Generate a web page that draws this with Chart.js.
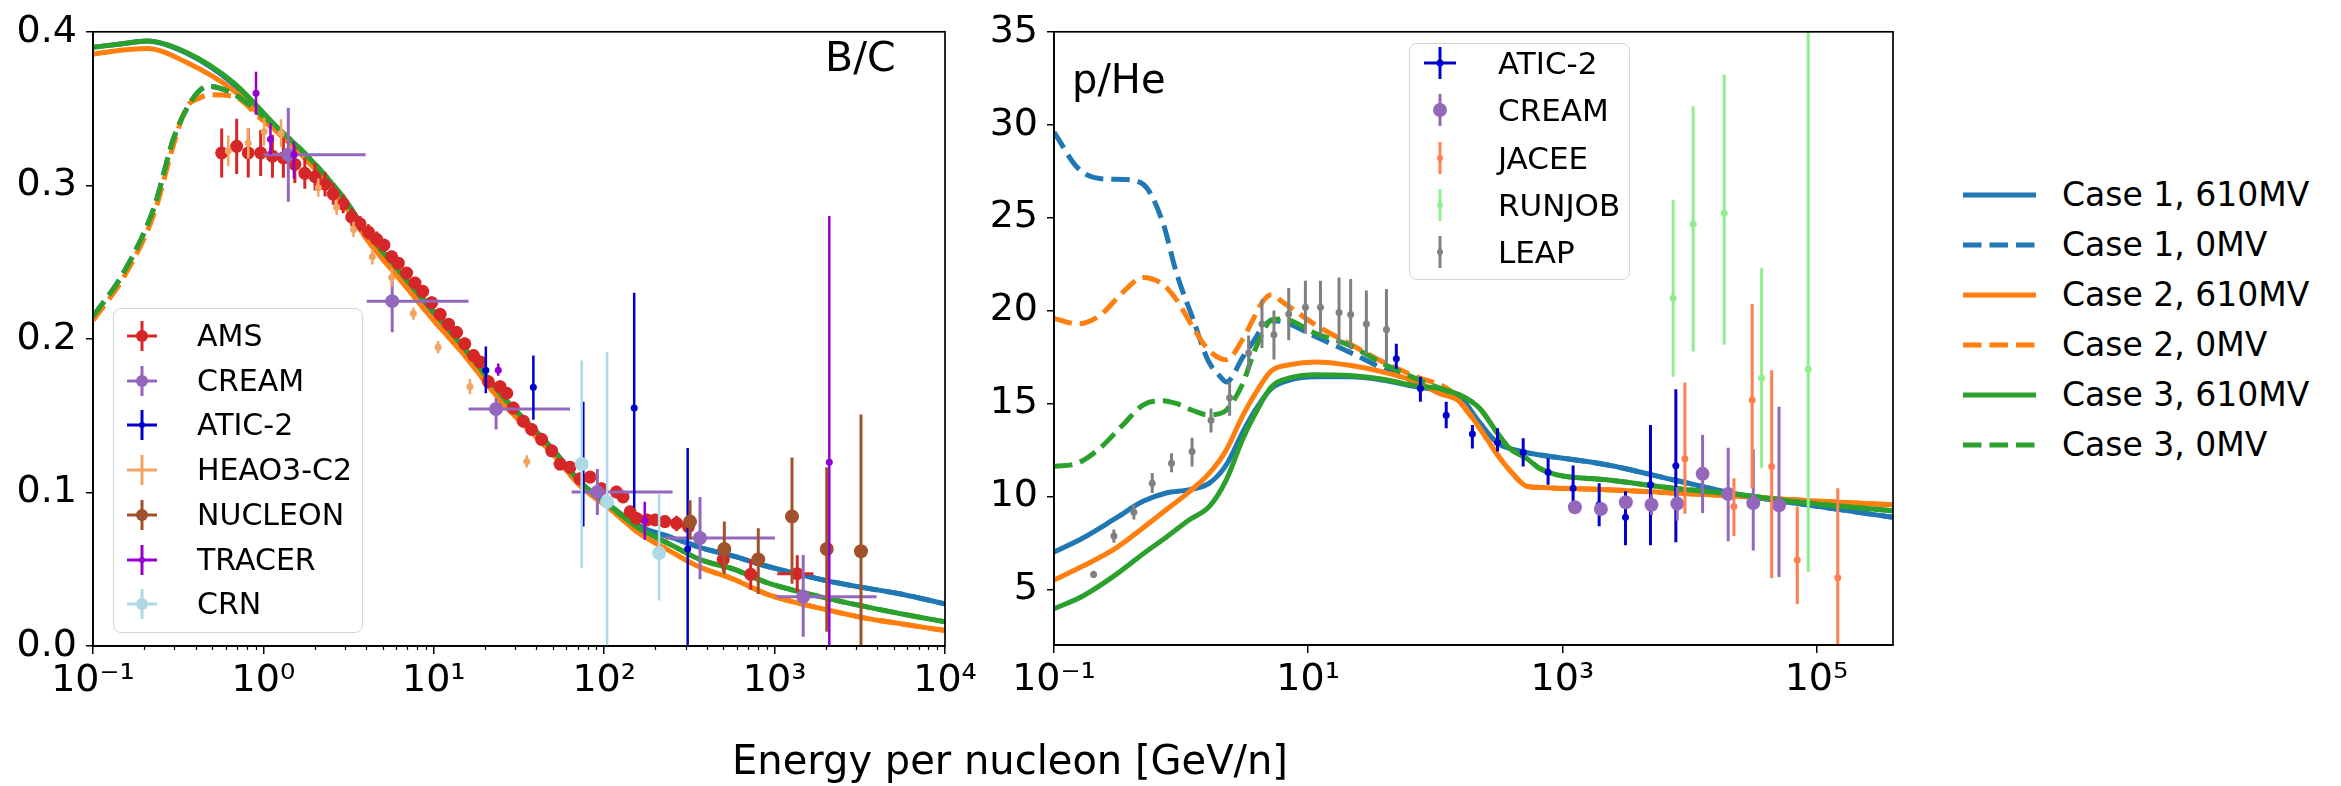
<!DOCTYPE html>
<html>
<head>
<meta charset="utf-8">
<script src="https://cdn.jsdelivr.net/npm/chart.js@4/dist/chart.umd.min.js"></script>
<style>
  body { margin: 0; background: #fff; width: 2341px; height: 786px; overflow: hidden; position: relative; font-family: "DejaVu Sans", sans-serif; color: #000; }
  canvas { position: absolute; top: 0; }
  #bc { left: 0; }
  #ph { left: 960px; }
  .lbl { position: absolute; line-height: 1; white-space: nowrap; }
  .box { position: absolute; border: 1.5px solid #d4d4d4; border-radius: 8px; background: rgba(255,255,255,0.8); box-sizing: border-box; }
  .row { position: absolute; left: 0; height: 40px; line-height: 40px; white-space: nowrap; }
  .row svg { position: absolute; top: 0; }
  .row span { position: absolute; }
</style>
</head>
<body>
<canvas id="bc" width="1010" height="786"></canvas>
<canvas id="ph" width="950" height="786"></canvas>

<div class="lbl" style="left:825px; top:37px; font-size:41px;">B/C</div>
<div class="lbl" style="left:1072px; top:59px; font-size:40px;">p/He</div>
<div class="lbl" style="left:0; width:2020px; text-align:center; top:740px; font-size:40px;">Energy per nucleon [GeV/n]</div>

<div id="legBC" class="box" style="left:113px; top:308px; width:250px; height:325px;"></div>
<div id="legPH" class="box" style="left:1409px; top:43px; width:221px; height:237px;"></div>
<div id="legCase" style="position:absolute; left:1950px; top:170px; width:391px; height:300px;"></div>

<script>
// ---------- B/C model curves ----------
const bcE = [0.1, 0.145, 0.207, 0.355, 0.665, 1.2, 1.78, 2.95, 4.04, 6.3, 10, 15.5, 24.5, 49, 72, 112, 155, 251, 363, 575, 891, 2040, 3470, 5500, 10000];
const bcCase1 = [0.390, 0.392, 0.394, 0.386, 0.366, 0.337, 0.319, 0.291, 0.269, 0.243, 0.217, 0.192, 0.164, 0.129, 0.107, 0.090, 0.0789, 0.0705, 0.0643, 0.0585, 0.0521, 0.0424, 0.0377, 0.0339, 0.0274];
const bcCase2 = [0.3854, 0.388, 0.3892, 0.380, 0.362, 0.335, 0.317, 0.288, 0.265, 0.239, 0.212, 0.188, 0.160, 0.126, 0.1046, 0.088, 0.0746, 0.061, 0.0514, 0.0435, 0.034, 0.0235, 0.018, 0.0145, 0.0100];
const bcCase3 = [0.390, 0.392, 0.394, 0.3865, 0.367, 0.338, 0.320, 0.292, 0.2696, 0.2439, 0.218, 0.1924, 0.1646, 0.129, 0.107, 0.090, 0.0778, 0.0655, 0.0564, 0.050, 0.0415, 0.031, 0.0255, 0.021, 0.0158];
const bcE0 = [0.1, 0.151, 0.229, 0.296, 0.355, 0.425, 0.475, 0.665, 0.955, 1.78, 2.95, 4.04, 6.3, 10, 15.5, 24.5, 49, 72, 112, 155, 251, 363, 575, 891, 2040, 3470, 5500, 10000];
const bcCase1_0 = [0.2146, 0.243, 0.286, 0.330, 0.350, 0.362, 0.3645, 0.3597, 0.3468, 0.319, 0.291, 0.269, 0.243, 0.217, 0.192, 0.164, 0.129, 0.107, 0.090, 0.0789, 0.0705, 0.0643, 0.0585, 0.0521, 0.0424, 0.0377, 0.0339, 0.0274];
const bcCase2_0 = [0.212, 0.240, 0.282, 0.326, 0.351, 0.357, 0.359, 0.358, 0.344, 0.317, 0.288, 0.265, 0.239, 0.212, 0.188, 0.160, 0.126, 0.1046, 0.088, 0.0746, 0.061, 0.0514, 0.0435, 0.034, 0.0235, 0.018, 0.0145, 0.0100];
const bcCase3_0 = [0.2146, 0.243, 0.286, 0.330, 0.350, 0.362, 0.3645, 0.3597, 0.3468, 0.320, 0.292, 0.2696, 0.2439, 0.218, 0.1924, 0.1646, 0.129, 0.107, 0.090, 0.0778, 0.0655, 0.0564, 0.050, 0.0415, 0.031, 0.0255, 0.021, 0.0158];

// ---------- B/C data ----------
const amsE = [0.569, 0.697, 0.815, 0.964, 1.13, 1.31, 1.53, 1.75, 2.01, 2.30, 2.57, 2.94, 3.30, 3.69, 4.13, 4.62, 5.10, 5.66, 6.19, 6.93, 7.76, 8.61, 9.72, 10.9, 12.2, 13.6, 15.2, 17.1, 18.7, 20.9, 24.5, 26.8, 29.3, 33.5, 37.5, 42.9, 49.2, 55.1, 63.0, 72.1, 82.6, 96.6, 118, 129, 142, 155, 178, 199, 227, 266, 312, 500, 724, 1358];
const amsY = [0.3211, 0.3254, 0.3211, 0.3211, 0.319, 0.3179, 0.3136, 0.3078, 0.3056, 0.3007, 0.2943, 0.2879, 0.2793, 0.275, 0.2696, 0.2649, 0.2611, 0.2535, 0.2493, 0.2429, 0.2364, 0.231, 0.2236, 0.216, 0.2096, 0.2043, 0.1968, 0.1892, 0.185, 0.1721, 0.1689, 0.1646, 0.155, 0.1464, 0.141, 0.1346, 0.1271, 0.1185, 0.1164, 0.1089, 0.110, 0.1024, 0.1003, 0.0971, 0.0874, 0.0831, 0.0821, 0.0821, 0.081, 0.0799, 0.0778, 0.0564, 0.0467, 0.0471];
const amsErr = [0.016, 0.018, 0.016, 0.015, 0.014, 0.013, 0.012, 0.010, 0.009, 0.008, 0.007, 0.006, 0.006, 0.005, 0.005, 0.005, 0.004, 0.004, 0.004, 0.004, 0.004, 0.004, 0.004, 0.004, 0.004, 0.004, 0.004, 0.004, 0.004, 0.004, 0.004, 0.004, 0.004, 0.004, 0.004, 0.004, 0.004, 0.004, 0.004, 0.004, 0.004, 0.004, 0.004, 0.004, 0.004, 0.004, 0.004, 0.004, 0.004, 0.005, 0.005, 0.008, 0.010, 0.012];
const amsXLo = [1037];
const amsXHi = [1690];

const creamBcE = [1.40, 5.70, 23.2, 91.2, 365, 1472];
const creamBcY = [0.320, 0.2246, 0.1543, 0.1003, 0.0703, 0.0321];
const creamBcLo = [0.2894, 0.2043, 0.141, 0.0853, 0.0435, 0.006];
const creamBcHi = [0.3506, 0.2375, 0.1614, 0.1153, 0.0971, 0.0592];
const creamBcXLo = [1.0, 4.04, 16, 64.4, 227, 1028];
const creamBcXHi = [3.98, 16, 63, 252, 1005, 3970];

const aticBcE = [20.2, 38.4, 75.4, 150, 309];
const aticBcY = [0.1796, 0.1685, 0.1185, 0.155, 0.0632];
const aticBcLo = [0.1646, 0.1474, 0.0778, 0.090, 0];
const aticBcHi = [0.195, 0.1892, 0.159, 0.230, 0.129];

const heaoE = [0.622, 0.815, 1.01, 1.27, 2.10, 2.69, 3.38, 4.36, 5.66, 7.59, 10.6, 16.3, 35.1];
const heaoY = [0.3225, 0.3275, 0.335, 0.334, 0.2985, 0.2857, 0.2713, 0.2535, 0.240, 0.2165, 0.1946, 0.1689, 0.1202];
const heaoErr = [0.010, 0.010, 0.009, 0.009, 0.006, 0.005, 0.005, 0.005, 0.006, 0.004, 0.004, 0.005, 0.004];

const nucE = [319, 507, 802, 1265, 2023, 3213];
const nucY = [0.081, 0.0632, 0.0564, 0.0843, 0.0632, 0.0617];
const nucLo = [0.0692, 0.0467, 0.0339, 0.0405, 0.0092, 0];
const nucHi = [0.095, 0.081, 0.0767, 0.1228, 0.1164, 0.1507];

const tracerE = [0.905, 1.10, 1.51, 23.9, 173, 2094];
const tracerY = [0.360, 0.330, 0.320, 0.1796, 0.0815, 0.1196];
const tracerLo = [0.346, 0.320, 0.3043, 0.176, 0.0692, 0];
const tracerHi = [0.374, 0.3405, 0.3286, 0.184, 0.0939, 0.28];

const crnE = [73.8, 104, 210];
const crnY = [0.1185, 0.0939, 0.0606];
const crnLo = [0.051, 0, 0.0296];
const crnHi = [0.186, 0.1914, 0.0992];

// ---------- p/He model curves ----------
const phE = [0.1, 0.169, 0.309, 0.501, 0.764, 1.17, 1.67, 2.27, 3.07, 3.91, 5.13, 7.14, 11.6, 21.2, 38.8, 71.1, 108, 156, 224, 312, 386, 522, 665, 900, 2230, 7450, 25000, 83600, 398000];
const phCase1 = [7.0, 7.76, 8.84, 9.73, 10.18, 10.36, 10.71, 11.70, 13.48, 14.73, 15.8, 16.25, 16.43, 16.43, 16.25, 15.89, 15.71, 15.35, 13.95, 12.85, 12.58, 12.35, 12.23, 12.1, 11.70, 10.89, 10.09, 9.55, 8.87];
const phCase2 = [5.5, 6.25, 7.23, 8.30, 9.28, 10.27, 11.25, 12.5, 14.37, 15.62, 16.75, 17.08, 17.23, 17.05, 16.69, 16.16, 15.53, 15.09, 13.66, 12.2, 11.4, 10.55, 10.48, 10.44, 10.36, 10.18, 10.0, 9.77, 9.55];
const phCase3 = [3.95, 4.64, 5.80, 6.9, 7.8, 8.75, 9.46, 10.89, 13.12, 14.55, 15.89, 16.37, 16.55, 16.5, 16.3, 15.94, 15.8, 15.45, 14.73, 13.35, 12.58, 12.05, 11.5, 11.16, 10.89, 10.44, 10.09, 9.64, 9.23];
const phE0 = [0.1, 0.155, 0.229, 0.348, 0.501, 0.719, 0.916, 1.24, 1.63, 2.0, 2.27, 3.07, 3.67, 4.41, 5.13, 6.31, 11.6, 21.2, 38.8, 71.1, 130, 156, 224, 312, 386, 522, 665, 900, 2230, 7450, 25000, 83600, 398000];
const phCase1_0 = [29.6, 27.65, 27.1, 27.05, 26.8, 24.73, 22.06, 19.55, 17.32, 16.5, 16.16, 17.5, 18.3, 19.1, 19.45, 19.4, 18.57, 17.76, 16.87, 16.1, 15.55, 15.35, 13.95, 12.85, 12.58, 12.35, 12.23, 12.1, 11.70, 10.89, 10.09, 9.55, 8.87];
const phCase2_0 = [19.58, 19.28, 19.73, 20.98, 21.78, 21.4, 20.6, 19.1, 17.9, 17.45, 17.35, 18.48, 19.5, 20.5, 20.85, 20.45, 19.2, 18.21, 17.23, 16.43, 15.71, 15.09, 13.66, 12.2, 11.4, 10.55, 10.48, 10.44, 10.36, 10.18, 10.0, 9.77, 9.55];
const phCase3_0 = [11.6, 11.8, 12.58, 13.84, 14.91, 15.15, 15.0, 14.62, 14.38, 14.45, 14.64, 16.1, 17.59, 18.84, 19.5, 19.55, 18.75, 18.12, 17.14, 16.33, 15.62, 15.45, 14.73, 13.35, 12.58, 12.05, 11.5, 11.16, 10.89, 10.44, 10.09, 9.64, 9.23];

// ---------- p/He data ----------
const aticPE = [49.4, 76.4, 122, 196, 309, 492, 773, 1216, 1950, 3140, 4940, 7820];
const aticPY = [17.41, 15.80, 14.37, 13.36, 12.9, 12.37, 11.30, 10.44, 9.55, 8.87, 10.62, 11.64];
const aticPLo = [16.87, 15.09, 13.66, 12.58, 12.41, 11.6, 10.62, 9.73, 8.39, 7.37, 7.37, 7.53];
const aticPHi = [18.21, 16.43, 15.09, 13.84, 13.66, 13.12, 12.05, 11.66, 10.71, 10.27, 13.84, 15.77];

const creamPE = [1256, 2010, 3160, 5030, 8020, 12700, 20200, 31800, 50700];
const creamPY = [9.41, 9.32, 9.68, 9.55, 9.61, 11.21, 10.12, 9.64, 9.52];
const creamPLo = [9.1, 9.0, 9.3, 9.0, 8.7, 9.1, 7.59, 7.09, 5.66];
const creamPHi = [9.7, 9.6, 10.0, 10.1, 10.5, 13.3, 12.62, 12.53, 14.82];

const jaceeE = [9220, 22400, 31200, 44400, 70600, 147000];
const jaceeY = [12.02, 9.46, 15.18, 11.6, 6.57, 5.62];
const jaceeLo = [9.07, 7.86, 10.44, 5.59, 4.2, 0];
const jaceeHi = [16.12, 10.98, 20.35, 16.78, 9.46, 10.44];

const runjobE = [7450, 10700, 18800, 37000, 86100];
const runjobY = [20.66, 24.64, 25.24, 16.37, 16.84];
const runjobLo = [16.43, 17.8, 18.16, 11.51, 5.93];
const runjobHi = [25.96, 31.0, 32.7, 22.27, 40];

const leapE = [0.205, 0.296, 0.425, 0.593, 0.841, 1.22, 1.72, 2.41, 3.40, 4.33, 5.38, 7.03, 9.51, 12.5, 17.5, 21.6, 28.7, 41.3];
const leapY = [5.80, 7.86, 9.14, 10.71, 11.78, 12.41, 14.1, 15.3, 17.71, 19.28, 18.69, 19.81, 20.17, 20.17, 19.9, 19.78, 19.28, 18.98];
const leapLo = [5.6, 7.5, 8.75, 10.18, 11.30, 11.6, 13.44, 14.34, 16.78, 17.98, 17.37, 18.4, 18.75, 18.75, 18.12, 17.9, 17.67, 17.14];
const leapHi = [6.0, 8.21, 9.55, 11.25, 12.32, 13.16, 14.73, 16.16, 18.66, 20.6, 20.0, 21.21, 21.6, 21.6, 21.78, 21.7, 21.08, 21.16];

// ---------- ticks ----------
const bcTicksX = [0.1, 1, 10, 100, 1000, 10000];
const bcTicksY = [0, 0.1, 0.2, 0.3, 0.4];
const phTicksX = [0.1, 10, 1000, 100000];
const phTicksY = [5, 10, 15, 20, 25, 30, 35];

const caseNames = ["Case 1, 610MV", "Case 1, 0MV", "Case 2, 610MV", "Case 2, 0MV", "Case 3, 610MV", "Case 3, 0MV"];
const bcNames = ["AMS", "CREAM", "ATIC-2", "HEAO3-C2", "NUCLEON", "TRACER", "CRN"];
const phNames = ["ATIC-2", "CREAM", "JACEE", "RUNJOB", "LEAP"];

const BLUE = "#1f77b4", ORANGE = "#ff7f0e", GREEN = "#2ca02c";
const DASH = [18.5, 8];

function pts(xs, ys) {
  return xs.map((x, i) => ({ x: x, y: ys[i] }));
}
function pm(ys, err, sign) {
  return ys.map((y, i) => y + sign * err[i]);
}

const supMap = { "-": "\u207B", "0": "\u2070", "1": "\u00B9", "2": "\u00B2", "3": "\u00B3", "4": "\u2074", "5": "\u2075" };
function decadeLabel(v) {
  const e = String(Math.round(Math.log10(v)));
  return "10" + e.split("").map(c => supMap[c]).join("");
}

function points(label, xs, ys, color, r, lo, hi, xlo, xhi, w) {
  return {
    label: label, data: pts(xs, ys), showLine: false,
    pointRadius: r, pointHoverRadius: r, pointBackgroundColor: color, pointBorderWidth: 0,
    borderColor: color, backgroundColor: color,
    yLo: lo, yHi: hi, xLo: xlo, xHi: xhi, errWidth: w || 3
  };
}
function curve(label, xs, ys, color, dashed) {
  return {
    label: label, data: pts(xs, ys), showLine: true, pointRadius: 0,
    borderColor: color, backgroundColor: color, borderWidth: 5,
    borderDash: dashed ? DASH : [], cubicInterpolationMode: "monotone", fill: false
  };
}

// error bars drawn just before each dataset's markers
const errorBars = {
  id: "errorBars",
  beforeDatasetDraw(chart, args) {
    const ds = chart.data.datasets[args.index];
    if (!ds.yLo && !ds.xLo) return;
    const ctx = chart.ctx, area = chart.chartArea;
    const xs = chart.scales.x, ys = chart.scales.y;
    ctx.save();
    ctx.beginPath();
    ctx.rect(area.left, area.top, area.width, area.height);
    ctx.clip();
    ctx.strokeStyle = ds.borderColor;
    ctx.lineWidth = ds.errWidth;
    ds.data.forEach((p, i) => {
      const px = xs.getPixelForValue(p.x), py = ys.getPixelForValue(p.y);
      ctx.beginPath();
      if (ds.yLo) {
        ctx.moveTo(px, ys.getPixelForValue(ds.yLo[i]));
        ctx.lineTo(px, ys.getPixelForValue(ds.yHi[i]));
      }
      if (ds.xLo && ds.xLo[i] != null) {
        ctx.moveTo(xs.getPixelForValue(ds.xLo[i]), py);
        ctx.lineTo(xs.getPixelForValue(ds.xHi[i]), py);
      }
      ctx.stroke();
    });
    ctx.restore();
  }
};

// axes box + minor log ticks
const frame = {
  id: "frame",
  afterDraw(chart, args, opts) {
    const ctx = chart.ctx, a = chart.chartArea;
    ctx.save();
    ctx.strokeStyle = "#000";
    ctx.lineWidth = 1.7;
    ctx.strokeRect(a.left, a.top, a.right - a.left, a.bottom - a.top);
    if (opts.minor) {
      const xs = chart.scales.x;
      ctx.lineWidth = 1.2;
      ctx.beginPath();
      for (let d = Math.floor(Math.log10(xs.min)); d < Math.log10(xs.max); d++) {
        for (let k = 2; k < 10; k++) {
          const v = k * Math.pow(10, d);
          if (v <= xs.min || v >= xs.max) continue;
          const px = Math.round(xs.getPixelForValue(v)) + 0.5;
          ctx.moveTo(px, a.bottom);
          ctx.lineTo(px, a.bottom + 4);
        }
      }
      ctx.stroke();
    }
    ctx.restore();
  }
};

function axes(xmin, xmax, xticks, ymin, ymax, yticks, yfmt, ywidth, xheight) {
  const font = { family: "DejaVu Sans", size: 38 };
  return {
    x: {
      type: "logarithmic", min: xmin, max: xmax,
      afterBuildTicks: s => { s.ticks = xticks.map(v => ({ value: v })); },
      afterFit: s => { s.height = xheight; },
      ticks: { callback: v => decadeLabel(v), font: font, color: "#000", maxRotation: 0, autoSkip: false, padding: 4 },
      grid: { drawOnChartArea: false, drawTicks: true, tickLength: 8, color: "#000", lineWidth: 1.5 },
      border: { display: true, color: "#000", width: 1.7 }
    },
    y: {
      type: "linear", min: ymin, max: ymax,
      afterBuildTicks: s => { s.ticks = yticks.map(v => ({ value: v })); },
      afterFit: s => { s.width = ywidth; },
      ticks: { callback: yfmt, font: font, color: "#000", padding: 9 },
      grid: { drawOnChartArea: false, drawTicks: true, tickLength: 7, color: "#000", lineWidth: 1.5 },
      border: { display: true, color: "#000", width: 1.7 }
    }
  };
}

const common = {
  responsive: false, animation: false, events: [],
  plugins: { legend: { display: false }, tooltip: { enabled: false } }
};

new Chart(document.getElementById("bc"), {
  type: "scatter",
  data: {
    datasets: [
      points("CRN", crnE, crnY, "#add8e6", 7, crnLo, crnHi, null, null, 2.5),
      points("TRACER", tracerE, tracerY, "#9400d3", 3.5, tracerLo, tracerHi, null, null, 2.5),
      points("NUCLEON", nucE, nucY, "#a0522d", 7, nucLo, nucHi, null, null, 3),
      points("HEAO3-C2", heaoE, heaoY, "#f4a460", 3.5, pm(heaoY, heaoErr, -1), pm(heaoY, heaoErr, 1), null, null, 2.5),
      points("ATIC-2", aticBcE, aticBcY, "#0000cd", 3.5, aticBcLo, aticBcHi, null, null, 2.5),
      points("CREAM", creamBcE, creamBcY, "#9467bd", 7, creamBcLo, creamBcHi, creamBcXLo, creamBcXHi, 3),
      points("AMS", amsE, amsY, "#d62728", 6.5, pm(amsY, amsErr, -1), pm(amsY, amsErr, 1),
             amsE.map((e, i) => i === amsE.length - 1 ? amsXLo[0] : null),
             amsE.map((e, i) => i === amsE.length - 1 ? amsXHi[0] : null), 3),
      curve(caseNames[5], bcE0, bcCase3_0, GREEN, true),
      curve(caseNames[4], bcE, bcCase3, GREEN, false),
      curve(caseNames[3], bcE0, bcCase2_0, ORANGE, true),
      curve(caseNames[2], bcE, bcCase2, ORANGE, false),
      curve(caseNames[1], bcE0, bcCase1_0, BLUE, true),
      curve(caseNames[0], bcE, bcCase1, BLUE, false)
    ]
  },
  options: Object.assign({}, common, {
    layout: { padding: { top: 24, right: 65, left: 0, bottom: 0 } },
    scales: axes(0.1, 10000, bcTicksX, 0, 0.4, bcTicksY, v => v.toFixed(1), 93, 140),
    plugins: { legend: { display: false }, tooltip: { enabled: false }, frame: { minor: true } }
  }),
  plugins: [errorBars, frame]
});

new Chart(document.getElementById("ph"), {
  type: "scatter",
  data: {
    datasets: [
      points("LEAP", leapE, leapY, "#808080", 3.5, leapLo, leapHi, null, null, 3),
      points("RUNJOB", runjobE, runjobY, "#90ee90", 3.5, runjobLo, runjobHi, null, null, 3),
      points("JACEE", jaceeE, jaceeY, "#ff7f50", 3.5, jaceeLo, jaceeHi, null, null, 3),
      points("CREAM", creamPE, creamPY, "#9467bd", 7, creamPLo, creamPHi, null, null, 3),
      points("ATIC-2", aticPE, aticPY, "#0000cd", 3.5, aticPLo, aticPHi, null, null, 3),
      curve(caseNames[5], phE0, phCase3_0, GREEN, true),
      curve(caseNames[4], phE, phCase3, GREEN, false),
      curve(caseNames[3], phE0, phCase2_0, ORANGE, true),
      curve(caseNames[2], phE, phCase2, ORANGE, false),
      curve(caseNames[1], phE0, phCase1_0, BLUE, true),
      curve(caseNames[0], phE, phCase1, BLUE, false)
    ]
  },
  options: Object.assign({}, common, {
    layout: { padding: { top: 29, right: 17, left: 0, bottom: 0 } },
    scales: axes(0.1, 400000, phTicksX, 2, 35, phTicksY, v => String(v), 94, 141),
    plugins: { legend: { display: false }, tooltip: { enabled: false }, frame: { minor: false } }
  }),
  plugins: [errorBars, frame]
});

// ---------- legends (html) ----------
function markerSvg(color, dot, hArm, vArm) {
  let s = '<svg width="60" height="40" viewBox="0 0 60 40">';
  if (hArm) s += '<line x1="' + (30 - hArm) + '" y1="20" x2="' + (30 + hArm) + '" y2="20" stroke="' + color + '" stroke-width="3"/>';
  if (vArm) s += '<line x1="30" y1="' + (20 - vArm) + '" x2="30" y2="' + (20 + vArm) + '" stroke="' + color + '" stroke-width="3"/>';
  if (dot) s += '<circle cx="30" cy="20" r="' + dot + '" fill="' + color + '"/>';
  return s + '</svg>';
}
function addRows(boxId, names, marks, top0, step, mx, tx, size) {
  const box = document.getElementById(boxId);
  names.forEach((n, i) => {
    const row = document.createElement("div");
    row.className = "row";
    row.style.top = (top0 + i * step - 20) + "px";
    row.style.fontSize = size + "px";
    row.innerHTML = marks[i].replace("<svg", '<svg style="left:' + (mx - 30) + 'px"') +
      '<span style="left:' + tx + 'px">' + n + '</span>';
    box.appendChild(row);
  });
}

const bcMarks = [
  markerSvg("#d62728", 6, 15, 15),
  markerSvg("#9467bd", 6, 15, 15),
  markerSvg("#0000cd", 3, 15, 15),
  markerSvg("#f4a460", 0, 15, 15),
  markerSvg("#a0522d", 6, 15, 15),
  markerSvg("#9400d3", 3, 15, 15),
  markerSvg("#add8e6", 6, 15, 15)
];
addRows("legBC", bcNames, bcMarks, 27, 44.7, 28, 83, 30);

const phMarks = [
  markerSvg("#0000cd", 3.5, 16, 16),
  markerSvg("#9467bd", 7, 0, 16),
  markerSvg("#ff7f50", 3, 0, 16),
  markerSvg("#90ee90", 3, 0, 16),
  markerSvg("#808080", 3, 0, 16)
];
addRows("legPH", phNames, phMarks, 19, 47.3, 30, 88, 31);

const caseColors = [BLUE, BLUE, ORANGE, ORANGE, GREEN, GREEN];
const legCase = document.getElementById("legCase");
caseNames.forEach((n, i) => {
  const row = document.createElement("div");
  row.className = "row";
  row.style.top = (25 + i * 50 - 20) + "px";
  row.style.fontSize = "33px";
  const dash = i % 2 === 1 ? ' stroke-dasharray="18.5 8"' : '';
  row.innerHTML = '<svg width="80" height="40" style="left:13px"><line x1="0" y1="20" x2="73" y2="20" stroke="' +
    caseColors[i] + '" stroke-width="5"' + dash + '/></svg><span style="left:112px">' + n + '</span>';
  legCase.appendChild(row);
});
</script>
</body>
</html>
